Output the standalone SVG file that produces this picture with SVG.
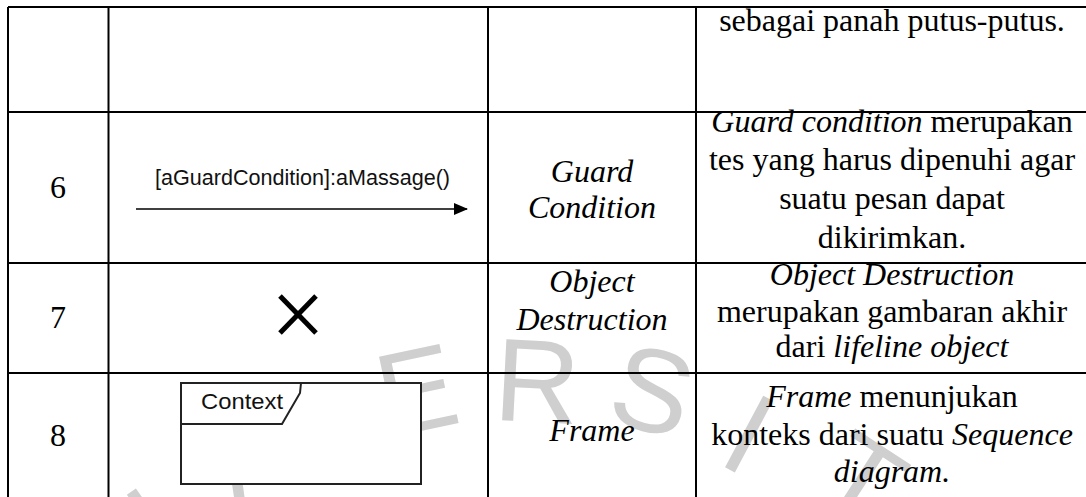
<svg xmlns="http://www.w3.org/2000/svg" width="1086" height="497" viewBox="0 0 1086 497">
<defs>
<style>
.grid{stroke:#000;stroke-width:2;fill:none}
.t{font-family:"Liberation Serif","Times New Roman",serif;font-size:32px;fill:#000;text-anchor:middle}
.i{font-style:italic}
.s{font-family:"Liberation Sans",Arial,sans-serif;font-size:22px;fill:#111}
.wm{font-family:"Liberation Sans",Arial,sans-serif;font-size:118px;fill:#cfcfcf;text-anchor:middle}
</style>
<marker id="ah" markerWidth="14" markerHeight="12" refX="13" refY="6" orient="auto" markerUnits="userSpaceOnUse">
<path d="M0,0 L14,6 L0,12 Z" fill="#000"/>
</marker>
</defs>
<rect width="1086" height="497" fill="#fff"/>
<g id="watermark">
<text class="wm" transform="translate(178,558) rotate(-35)">I</text>
<text class="wm" transform="translate(247,555) rotate(-30)">V</text>
<text class="wm" transform="translate(425,430) rotate(-12)">E</text>
<text class="wm" transform="translate(535,422) rotate(3)">R</text>
<text class="wm" transform="translate(642,430) rotate(15)">S</text>
<text class="wm" transform="translate(730,470) rotate(28)">I</text>
<text class="wm" transform="translate(839,515) rotate(33)">T</text>
</g>
<g id="table-grid" class="grid">
<line x1="8" y1="7" x2="1086" y2="7"/>
<line x1="8" y1="112" x2="1086" y2="112"/>
<line x1="8" y1="263" x2="1086" y2="263"/>
<line x1="8" y1="373" x2="1086" y2="373"/>
<line x1="8" y1="7" x2="8" y2="497"/>
<line x1="108.5" y1="7" x2="108.5" y2="497"/>
<line x1="488" y1="7" x2="488" y2="497"/>
<line x1="696" y1="7" x2="696" y2="497"/>
</g>
<g id="row5">
<text class="t" x="892" y="31">sebagai panah putus-putus.</text>
</g>
<g id="row6">
<text class="t" x="58" y="198">6</text>
<text class="s" x="155" y="185" textLength="295" lengthAdjust="spacingAndGlyphs">[aGuardCondition]:aMassage()</text>
<g id="connectors">
<line x1="136" y1="209" x2="467" y2="209" stroke="#000" stroke-width="1.6" marker-end="url(#ah)"/>
</g>
<text class="t i" x="592" y="182">Guard</text>
<text class="t i" x="592" y="218">Condition</text>
<text class="t" x="892" y="132"><tspan class="i">Guard condition</tspan> merupakan</text>
<text class="t" x="892" y="170">tes yang harus dipenuhi agar</text>
<text class="t" x="892" y="209">suatu pesan dapat</text>
<text class="t" x="892" y="248">dikirimkan.</text>
</g>
<g id="row7">
<text class="t" x="58" y="328">7</text>
<g id="destruction-x" stroke="#000" stroke-width="5">
<line x1="280" y1="296" x2="316" y2="333"/>
<line x1="316" y1="296" x2="280" y2="333"/>
</g>
<text class="t i" x="592" y="292">Object</text>
<text class="t i" x="592" y="330">Destruction</text>
<text class="t i" x="892" y="285">Object Destruction</text>
<text class="t" x="892" y="322">merupakan gambaran akhir</text>
<text class="t" x="892" y="357">dari <tspan class="i">lifeline object</tspan></text>
</g>
<g id="row8">
<text class="t" x="58" y="446">8</text>
<g id="frame">
<rect x="181" y="383" width="240" height="101" fill="#fff" stroke="#222" stroke-width="2"/>
<path d="M181,424 L282,424 L300,393 L301,383" fill="none" stroke="#222" stroke-width="2"/>
<text class="s" x="201" y="409" textLength="82" lengthAdjust="spacingAndGlyphs">Context</text>
</g>
<text class="t i" x="592" y="441">Frame</text>
<text class="t" x="892" y="407"><tspan class="i">Frame</tspan>  menunjukan</text>
<text class="t" x="892" y="445">konteks dari suatu <tspan class="i">Sequence</tspan></text>
<text class="t i" x="892" y="482">diagram.</text>
</g>
</svg>
